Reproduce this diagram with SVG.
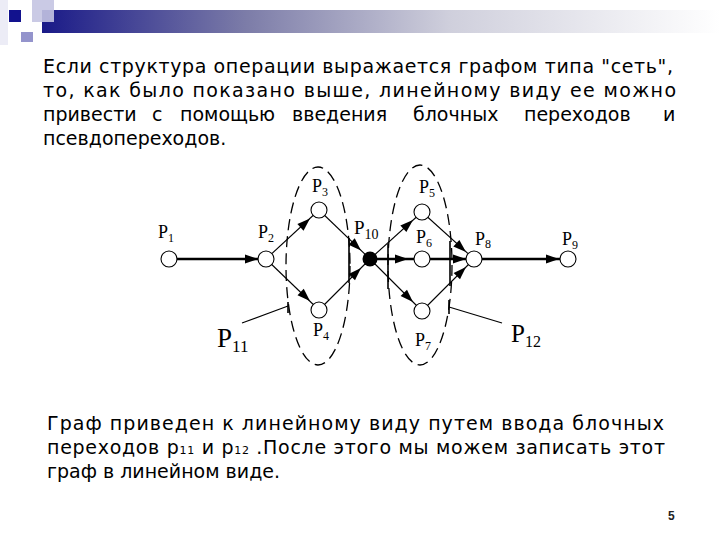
<svg xmlns="http://www.w3.org/2000/svg" xmlns:xlink="http://www.w3.org/1999/xlink" width="720" height="540" viewBox="0 0 720 540">
<defs>
<linearGradient id="bar" x1="0" y1="0" x2="1" y2="0">
<stop offset="0" stop-color="#1a1a88"/>
<stop offset="0.3" stop-color="#7c7ca8"/>
<stop offset="0.6" stop-color="#cfcfdc"/>
<stop offset="1" stop-color="#ffffff"/>
</linearGradient>
<path id="ah" d="M0,0 L-13,-4.5 L-13,4.5 Z"/>
<style>
.txt{font-family:"DejaVu Sans","Verdana",sans-serif;font-size:19px;fill:#000}
.lab{font-family:"Liberation Serif","Times New Roman",serif;fill:#000}
.thin{stroke:#000;stroke-width:1.1;fill:none}
.thick{stroke:#000;stroke-width:2.6;fill:none}
.node{fill:#fff;stroke:#000;stroke-width:1.1}
.dash{fill:none;stroke:#000;stroke-width:1.3;stroke-dasharray:11 6}
.bar{stroke:#000;stroke-width:1.6}
</style>
</defs>
<rect width="720" height="540" fill="#fff"/>
<g id="header">
<rect x="0" y="0" width="8" height="45" fill="#ececf6"/>
<rect x="42" y="10" width="678" height="23" fill="url(#bar)"/>
<rect x="32" y="0" width="22" height="22" fill="#c4c4e2" opacity="0.9"/>
<rect x="9" y="10" width="12" height="12" fill="#12128e"/>
<rect x="21" y="32" width="12" height="10" fill="#9494cc"/>
</g>
<g id="text-top" class="txt">
<text x="43" y="73" textLength="630" lengthAdjust="spacing">Если структура операции выражается графом типа "сеть",</text>
<text x="43" y="97" textLength="633" lengthAdjust="spacing">то, как было показано выше, линейному виду ее можно</text>
<text y="121"><tspan x="43">привести</tspan><tspan x="152">с</tspan><tspan x="180">помощью</tspan><tspan x="292">введения</tspan><tspan x="413">блочных</tspan><tspan x="524">переходов</tspan><tspan x="663">и</tspan></text>
<text x="43" y="145">псевдопереходов.</text>
</g>
<g id="ellipses">
<ellipse class="dash" cx="318" cy="266" rx="32" ry="99"/>
<ellipse class="dash" cx="420" cy="265" rx="32" ry="100"/>
</g>
<g id="connectors">
<line class="thick" x1="176" y1="259" x2="259" y2="259"/>
<line class="thin" x1="266" y1="259" x2="319" y2="210"/>
<line class="thin" x1="266" y1="259" x2="319" y2="310"/>
<line class="thin" x1="319" y1="210" x2="370" y2="259"/>
<line class="thin" x1="319" y1="310" x2="370" y2="259"/>
<line class="thin" x1="370" y1="259" x2="422" y2="212"/>
<line class="thick" x1="370" y1="259" x2="414" y2="259"/>
<line class="thin" x1="370" y1="259" x2="422" y2="311"/>
<line class="thin" x1="422" y1="212" x2="474" y2="259"/>
<line class="thick" x1="430" y1="259" x2="466" y2="259"/>
<line class="thin" x1="422" y1="311" x2="474" y2="259"/>
<line class="thick" x1="482" y1="259" x2="560" y2="259"/>
<line class="thin" x1="242" y1="323" x2="288" y2="306"/>
<line class="thin" x1="449" y1="307" x2="502" y2="323"/>
<line class="bar" x1="349" y1="238" x2="349" y2="283"/>
<line class="bar" x1="388" y1="244" x2="388" y2="289"/>
<line class="bar" x1="450" y1="241" x2="450" y2="286"/>
<line class="bar" x1="288" y1="302" x2="288" y2="313"/>
<line class="bar" x1="449" y1="300" x2="449" y2="314"/>
<use xlink:href="#ah" transform="translate(258,259)"/>
<use xlink:href="#ah" transform="translate(310,218.5) rotate(-42.8)"/>
<use xlink:href="#ah" transform="translate(310,301) rotate(43.9)"/>
<use xlink:href="#ah" transform="translate(361,250.5) rotate(43.9)"/>
<use xlink:href="#ah" transform="translate(361,268) rotate(-45)"/>
<use xlink:href="#ah" transform="translate(413,220) rotate(-42.1)"/>
<use xlink:href="#ah" transform="translate(408,259)"/>
<use xlink:href="#ah" transform="translate(413,302) rotate(45)"/>
<use xlink:href="#ah" transform="translate(466,252) rotate(42.1)"/>
<use xlink:href="#ah" transform="translate(466,259)"/>
<use xlink:href="#ah" transform="translate(466,267) rotate(-45)"/>
<use xlink:href="#ah" transform="translate(559,259)"/>
</g>
<g id="P1"><circle class="node" cx="169" cy="259" r="8"/><text class="lab" x="158" y="238" font-size="18">P<tspan font-size="12" dy="4">1</tspan></text></g>
<g id="P2"><circle class="node" cx="266" cy="259" r="8"/><text class="lab" x="258" y="238" font-size="18">P<tspan font-size="12" dy="4">2</tspan></text></g>
<g id="P3"><circle class="node" cx="319" cy="210" r="8"/><text class="lab" x="312" y="192" font-size="18">P<tspan font-size="12" dy="4">3</tspan></text></g>
<g id="P4"><circle class="node" cx="319" cy="310" r="8"/><text class="lab" x="313" y="336" font-size="18">P<tspan font-size="12" dy="4">4</tspan></text></g>
<g id="P10"><circle cx="370" cy="259" r="7.5" fill="#000"/><text class="lab" x="354" y="234" font-size="19">P<tspan font-size="14" dy="5">10</tspan></text></g>
<g id="P5"><circle class="node" cx="422" cy="212" r="8"/><text class="lab" x="419" y="193" font-size="18">P<tspan font-size="12" dy="4">5</tspan></text></g>
<g id="P6"><circle class="node" cx="422" cy="259" r="8"/><text class="lab" x="416" y="243" font-size="18">P<tspan font-size="12" dy="4">6</tspan></text></g>
<g id="P7"><circle class="node" cx="422" cy="311" r="8"/><text class="lab" x="415" y="346" font-size="18">P<tspan font-size="12" dy="4">7</tspan></text></g>
<g id="P8"><circle class="node" cx="474" cy="259" r="8"/><text class="lab" x="475" y="245" font-size="18">P<tspan font-size="12" dy="3">8</tspan></text></g>
<g id="P9"><circle class="node" cx="568" cy="259" r="8"/><text class="lab" x="562" y="245" font-size="18">P<tspan font-size="12" dy="4">9</tspan></text></g>
<g id="P11"><text class="lab" x="217" y="347" font-size="27">P<tspan font-size="17" dy="5">11</tspan></text></g>
<g id="P12"><text class="lab" x="511" y="342" font-size="25">P<tspan font-size="16" dy="5">12</tspan></text></g>
<g id="text-bottom" class="txt">
<text x="47" y="430" textLength="617" lengthAdjust="spacing">Граф приведен к линейному виду путем ввода блочных</text>
<text x="47" y="454" textLength="618" lengthAdjust="spacing">переходов р<tspan font-size="11">11</tspan> и р<tspan font-size="11">12</tspan> .После этого мы можем записать этот</text>
<text x="47" y="478">граф в линейном виде.</text>
</g>
<text x="668" y="520" font-family="'Liberation Sans',Arial,sans-serif" font-size="12" font-weight="bold" fill="#222">5</text>
</svg>
